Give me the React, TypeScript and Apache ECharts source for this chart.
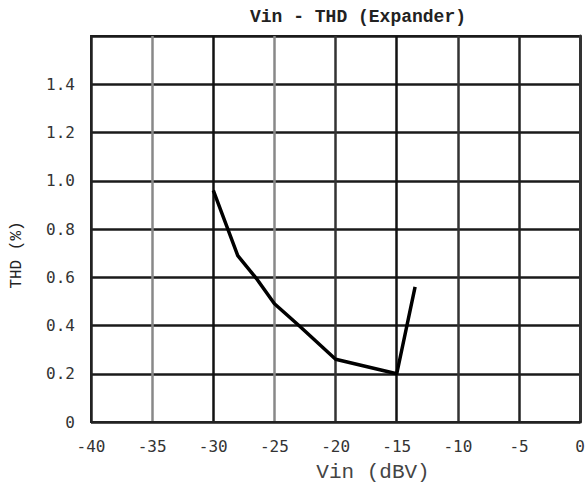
import React, { useEffect, useRef } from "react";
import * as echarts from "echarts";

const vin: number[] = [-30, -28, -26.4, -25, -23, -20, -15, -13.5];
const thd: number[] = [0.96, 0.69, 0.59, 0.49, 0.4, 0.26, 0.2, 0.56];
const xTicks: number[] = [-40, -35, -30, -25, -20, -15, -10, -5, 0];
const yTickLabels: string[] = ["0", "0.2", "0.4", "0.6", "0.8", "1.0", "1.2", "1.4", ""];
const titleText = "Vin - THD (Expander)";
const xName = "Vin (dBV)";
const yName = "THD (%)";

export default function App() {
  const ref = useRef<HTMLDivElement>(null);
  useEffect(() => {
    if (!ref.current) return;
    const chart = echarts.init(ref.current, undefined, { renderer: "svg" });
    const data = vin.map((v, i) => [v, thd[i]]);
    chart.setOption({
      animation: false,
      backgroundColor: "#ffffff",
      grid: {
        left: 91,
        right: 6,
        top: 36,
        bottom: 74,
        show: true,
        borderColor: "#222",
        borderWidth: 2,
      },
      graphic: [
        {
          type: "text",
          x: 358,
          y: 17,
          style: {
            text: titleText,
            font: "bold 18px 'Liberation Mono'",
            fill: "#222",
            textAlign: "center",
            textVerticalAlign: "middle",
          },
        },
        {
          type: "text",
          x: 373,
          y: 472,
          style: {
            text: xName,
            font: "21px 'Liberation Mono'",
            fill: "#444",
            textAlign: "center",
            textVerticalAlign: "middle",
          },
        },
        {
          type: "text",
          x: 17,
          y: 255,
          rotation: Math.PI / 2,
          style: {
            text: yName,
            font: "16px 'Liberation Mono'",
            fill: "#222",
            textAlign: "center",
            textVerticalAlign: "middle",
          },
        },
      ],
      xAxis: {
        type: "value",
        min: xTicks[0],
        max: xTicks[xTicks.length - 1],
        interval: 5,
        axisLine: { show: true, lineStyle: { color: "#222", width: 2 } },
        axisTick: { show: false },
        axisLabel: {
          margin: 16,
          fontFamily: "DejaVu Sans Mono",
          fontSize: 16,
          color: "#333",
        },
        splitLine: {
          show: true,
          lineStyle: {
            width: 2.5,
            color: ["#222", "#888", "#111", "#888", "#333", "#111", "#333", "#222", "#222"],
          },
        },
      },
      yAxis: {
        type: "value",
        min: 0,
        max: 1.6,
        interval: 0.2,
        axisLine: { show: true, lineStyle: { color: "#333", width: 3 } },
        axisTick: { show: false },
        axisLabel: {
          margin: 16,
          fontFamily: "DejaVu Sans Mono",
          fontSize: 16,
          color: "#333",
          formatter: (v: number) => yTickLabels[Math.round(v / 0.2)] ?? "",
        },
        splitLine: {
          show: true,
          lineStyle: { width: 2.5, color: "#1a1a1a" },
        },
      },
      series: [
        {
          type: "line",
          data,
          showSymbol: false,
          symbol: "none",
          lineStyle: { color: "#000", width: 3.5 },
          z: 5,
        },
      ],
    });
    return () => chart.dispose();
  }, []);
  return (
    <div
      ref={ref}
      style={{ position: "absolute", left: 0, top: 0, width: 588, height: 496 }}
    />
  );
}
